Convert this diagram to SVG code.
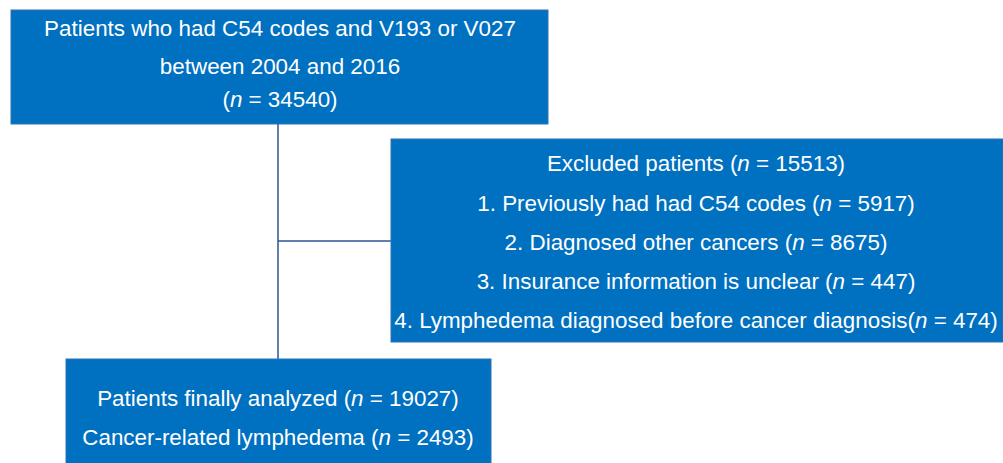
<svg xmlns="http://www.w3.org/2000/svg" width="1003" height="463" viewBox="0 0 1003 463">
<style>
.box{fill:#0070C0;stroke:#2E75B6;stroke-width:1}
.t{font-family:"Liberation Sans",Arial,sans-serif;font-size:22.4px;fill:#ffffff;text-anchor:middle}
.c{stroke:#2F5597;stroke-width:1.5;fill:none}
</style>
<rect width="1003" height="463" fill="#ffffff"/>
<g id="connectors">
<line class="c" x1="278" y1="124" x2="278" y2="359"/>
<line class="c" x1="278" y1="241" x2="391" y2="241"/>
</g>
<g id="top">
<rect class="box" x="11" y="10" width="537" height="114"/>
<text class="t" x="280" y="36">Patients who had C54 codes and V193 or V027</text>
<text class="t" x="280" y="74">between 2004 and 2016</text>
<text class="t" x="280" y="107">(<tspan font-style="italic">n</tspan> = 34540)</text>
</g>
<g id="excluded">
<rect class="box" x="391" y="139" width="612" height="203"/>
<text class="t" x="696" y="171">Excluded patients (<tspan font-style="italic">n</tspan> = 15513)</text>
<text class="t" x="696" y="211">1. Previously had had C54 codes (<tspan font-style="italic">n</tspan> = 5917)</text>
<text class="t" x="696" y="250">2. Diagnosed other cancers (<tspan font-style="italic">n</tspan> = 8675)</text>
<text class="t" x="696" y="289">3. Insurance information is unclear (<tspan font-style="italic">n</tspan> = 447)</text>
<text class="t" x="696" y="328">4. Lymphedema diagnosed before cancer diagnosis(<tspan font-style="italic">n</tspan> = 474)</text>
</g>
<g id="final">
<rect class="box" x="66" y="359" width="425" height="110"/>
<text class="t" x="278" y="406">Patients finally analyzed (<tspan font-style="italic">n</tspan> = 19027)</text>
<text class="t" x="278" y="445">Cancer-related lymphedema (<tspan font-style="italic">n</tspan> = 2493)</text>
</g>
</svg>
